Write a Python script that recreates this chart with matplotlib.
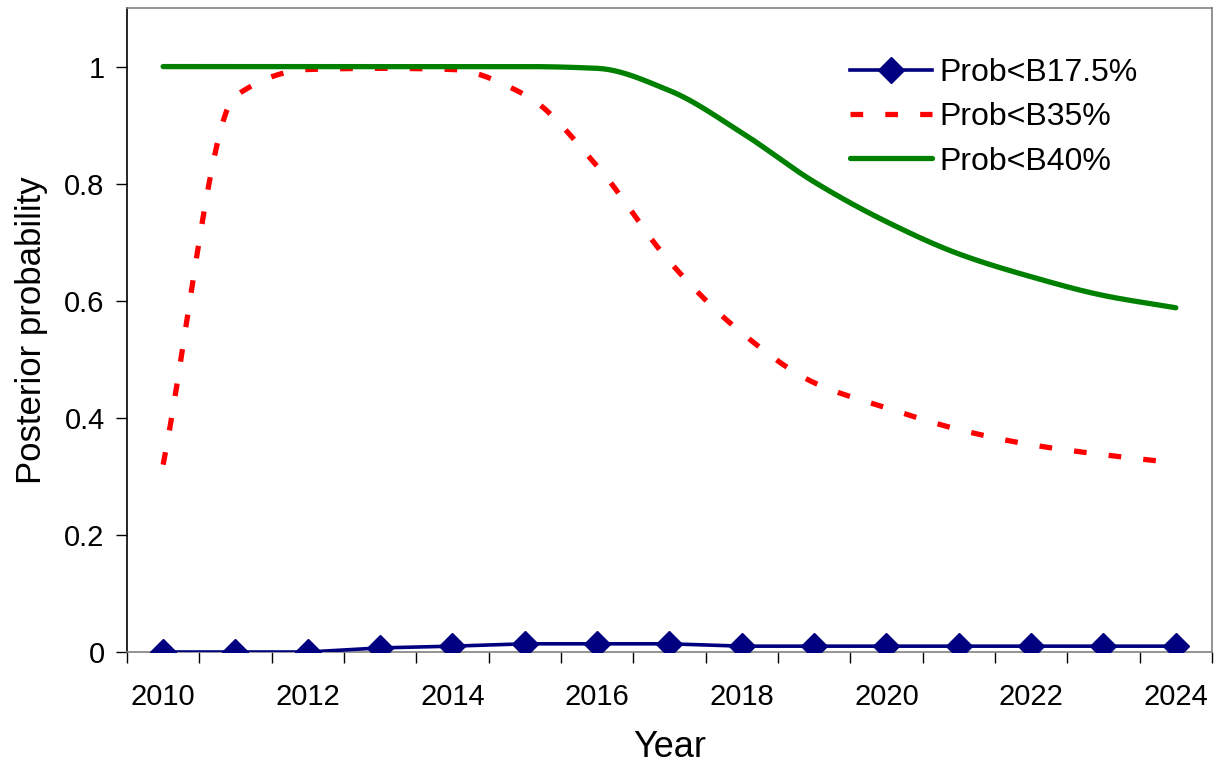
import numpy as np
import matplotlib
matplotlib.use("Agg")
import matplotlib.pyplot as plt
from matplotlib.ticker import FixedLocator, FuncFormatter

plt.rcParams['font.family'] = ['Liberation Sans', 'DejaVu Sans']

years = list(range(2010, 2025))
prob_b175 = [0.0, 0.0, 0.0, 0.007, 0.010, 0.014, 0.014, 0.014, 0.010, 0.010, 0.010, 0.010, 0.010, 0.010, 0.010]
prob_b35 = [0.32, 0.95, 0.995, 0.997, 0.995, 0.952, 0.83, 0.667, 0.545, 0.46, 0.417, 0.38, 0.354, 0.337, 0.323]
prob_b40 = [1.0, 1.0, 1.0, 1.0, 1.0, 1.0, 0.997, 0.959, 0.887, 0.803, 0.735, 0.680, 0.641, 0.609, 0.588]
labels = ["Prob<B17.5%", "Prob<B35%", "Prob<B40%"]


def smooth(x, y, n=24):
    """Monotone cubic (Fritsch-Carlson) path through the points."""
    x = np.asarray(x, float)
    y = np.asarray(y, float)
    h = np.diff(x)
    d = np.diff(y) / h
    m = np.zeros_like(y)
    m[0], m[-1] = d[0], d[-1]
    for i in range(1, len(y) - 1):
        if d[i - 1] * d[i] <= 0:
            m[i] = 0.0
        else:
            w1 = 2 * h[i] + h[i - 1]
            w2 = h[i] + 2 * h[i - 1]
            m[i] = (w1 + w2) / (w1 / d[i - 1] + w2 / d[i])
    xs, ys = [], []
    t = np.linspace(0, 1, n, endpoint=False)
    for i in range(len(x) - 1):
        h00 = 2 * t ** 3 - 3 * t ** 2 + 1
        h10 = t ** 3 - 2 * t ** 2 + t
        h01 = -2 * t ** 3 + 3 * t ** 2
        h11 = t ** 3 - t ** 2
        xs.extend(x[i] + t * h[i])
        ys.extend(h00 * y[i] + h10 * h[i] * m[i] + h01 * y[i + 1] + h11 * h[i] * m[i + 1])
    xs.append(x[-1])
    ys.append(y[-1])
    return np.array(xs), np.array(ys)


fig = plt.figure(figsize=(12.16, 7.65), dpi=100)
ax = fig.add_axes([0.1044, 0.1477, 0.8923, 0.8418])

ax.plot(years, prob_b175, color="#000080", lw=2.6, marker="D", ms=13,
        label=labels[0], zorder=4)
sx, sy = smooth(years, prob_b35)
ax.plot(sx, sy, color="#ff0000", lw=3.8, dashes=(2.4, 4.2),
        dash_capstyle="butt", label=labels[1], zorder=3)
gx, gy = smooth(years, prob_b40)
ax.plot(gx, gy, color="#008000", lw=3.8, solid_capstyle="round",
        label=labels[2], zorder=3)

ax.set_xlim(2009.5, 2024.5)
ax.set_ylim(0, 1.1)

ax.xaxis.set_major_locator(FixedLocator(list(range(2010, 2025, 2))))
ax.xaxis.set_minor_locator(FixedLocator([y - 0.5 for y in range(2010, 2026)]))
ax.tick_params(axis="x", which="major", length=0, pad=22, labelsize=21)
ax.tick_params(axis="x", which="minor", length=8, direction="out", width=1)
ax.yaxis.set_major_locator(FixedLocator([0, 0.2, 0.4, 0.6, 0.8, 1.0]))
ax.yaxis.set_major_formatter(FuncFormatter(lambda v, p: f"{v:g}"))
ax.tick_params(axis="y", length=8, direction="out", width=1, pad=8, labelsize=21)

ax.spines["left"].set_color("black")
for s in ("top", "right", "bottom"):
    ax.spines[s].set_color("#808080")
for s in ax.spines.values():
    s.set_linewidth(1.2)

ax.set_xlabel("Year", fontsize=26, labelpad=14)
ax.set_ylabel("Posterior probability", fontsize=25, labelpad=12)

ax.legend(loc="upper left", bbox_to_anchor=(0.6755, 0.962),
          bbox_transform=fig.transFigure, frameon=False,
          fontsize=23, handlelength=2.57, handletextpad=0.22,
          labelspacing=0.45)

fig.savefig("out.png", dpi=100)
